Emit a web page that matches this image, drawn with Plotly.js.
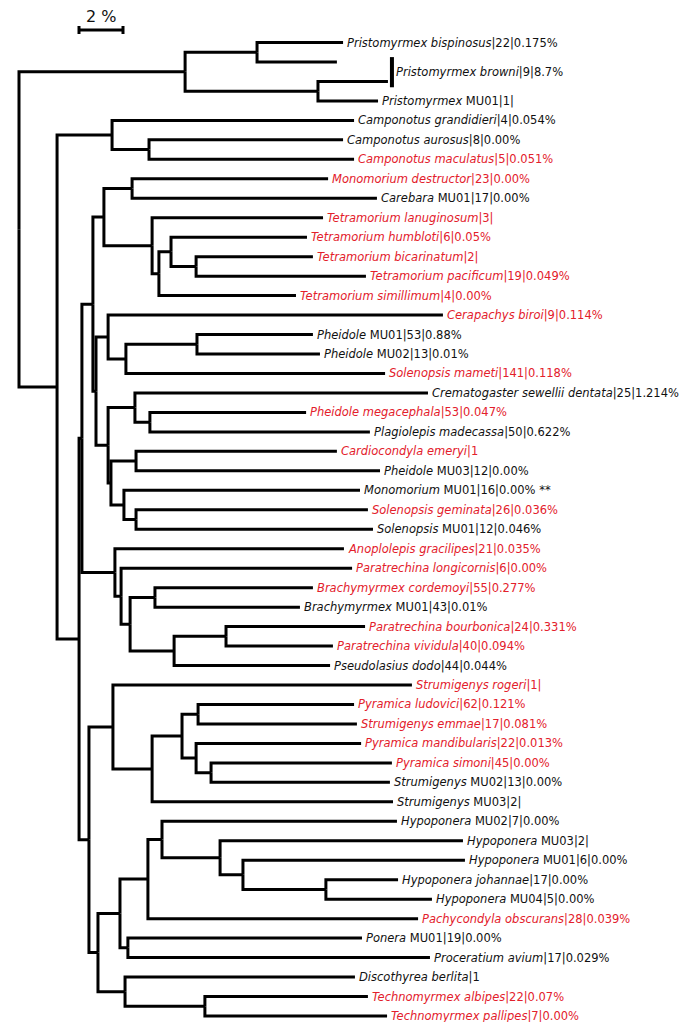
<!DOCTYPE html>
<html><head><meta charset="utf-8">
<script src="https://cdn.plot.ly/plotly-3.0.1.min.js"></script>
<style>html,body{margin:0;padding:0;background:#fff}#chart{width:685px;height:1022px}</style>
</head><body><div id="chart"></div>
<script>
// ---- Tree data (depths in % divergence from root) ----
const nodeIds = ['root','prist','p1','p2','A','camp','camp2','B','C','E','Q','monoCare','R','S','T','bicPac',
  'F','G','H','phMU','I','crem','megPlag','J','cardPh','K','sol','M','N','O','brachy','Pn','bourbViv',
  'D','U','V','W','ludEmm','X','simMU02','Y','Z','AA','BB','CC','DD','EE','ponProc','FF','GG'];
const nodeParents = [null,'root','prist','prist','root','A','camp','A','B','C','E','Q','Q','R','S','T',
  'E','F','G','H','F','I','crem','I','J','J','K','C','M','N','O','O','Pn',
  'B','D','U','V','W','W','X','D','Y','Z','AA','BB','CC','DD','Z','Y','FF'];
const nodeDepths = [0,7.55,10.82,13.59,1.73,4.23,5.91,2.73,2.86,3.36,3.86,5.14,6.05,6.36,6.91,8.05,
  3.50,4.05,4.86,8.09,4.05,5.27,5.95,4.18,5.32,4.77,5.32,4.36,4.64,5.05,6.18,7.05,9.41,
  3.18,4.27,6.05,7.41,8.14,8.05,8.73,3.59,4.59,5.86,6.50,9.14,10.18,13.95,4.95,4.82,8.45];

const leafTaxa = ['Pristomyrmex bispinosus','','','Pristomyrmex','Camponotus grandidieri','Camponotus aurosus',
  'Camponotus maculatus','Monomorium destructor','Carebara','Tetramorium lanuginosum','Tetramorium humbloti',
  'Tetramorium bicarinatum','Tetramorium pacificum','Tetramorium simillimum','Cerapachys biroi','Pheidole',
  'Pheidole','Solenopsis mameti','Crematogaster sewellii dentata','Pheidole megacephala','Plagiolepis madecassa',
  'Cardiocondyla emeryi','Pheidole','Monomorium','Solenopsis geminata','Solenopsis','Anoplolepis gracilipes',
  'Paratrechina longicornis','Brachymyrmex cordemoyi','Brachymyrmex','Paratrechina bourbonica',
  'Paratrechina vividula','Pseudolasius dodo','Strumigenys rogeri','Pyramica ludovici','Strumigenys emmae',
  'Pyramica mandibularis','Pyramica simoni','Strumigenys','Strumigenys','Hypoponera','Hypoponera','Hypoponera',
  'Hypoponera johannae','Hypoponera','Pachycondyla obscurans','Ponera','Proceratium avium','Discothyrea berlita',
  'Technomyrmex albipes','Technomyrmex pallipes'];
const leafInfo = ['|22|0.175%','','',' MU01|1|','|4|0.054%','|8|0.00%','|5|0.051%','|23|0.00%',' MU01|17|0.00%',
  '|3|','|6|0.05%','|2|','|19|0.049%','|4|0.00%','|9|0.114%',' MU01|53|0.88%',' MU02|13|0.01%','|141|0.118%',
  '|25|1.214%','|53|0.047%','|50|0.622%','|1',' MU03|12|0.00%',' MU01|16|0.00% **','|26|0.036%',' MU01|12|0.046%',
  '|21|0.035%','|6|0.00%','|55|0.277%',' MU01|43|0.01%','|24|0.331%','|40|0.094%','|44|0.044%','|1|',
  '|62|0.121%','|17|0.081%','|22|0.013%','|45|0.00%',' MU02|13|0.00%',' MU03|2|',' MU02|7|0.00%',' MU03|2|',
  ' MU01|6|0.00%','|17|0.00%',' MU04|5|0.00%','|28|0.039%',' MU01|19|0.00%','|17|0.029%','|1','|22|0.07%','|7|0.00%'];
const leafParents = ['p1','p1','p2','p2','camp','camp2','camp2','monoCare','monoCare','R','T','bicPac','bicPac','S',
  'G','phMU','phMU','H','crem','megPlag','megPlag','cardPh','cardPh','K','sol','sol','M','N','brachy','brachy',
  'bourbViv','bourbViv','Pn','U','ludEmm','ludEmm','X','simMU02','simMU02','V','BB','CC','DD','EE','EE','AA',
  'ponProc','ponProc','FF','GG','GG'];
const leafDepths = [14.73,14.45,16.77,16.32,15.23,14.73,15.23,14.05,16.27,13.82,13.09,13.36,15.77,12.59,19.27,
  13.36,13.68,16.64,18.59,13.05,15.95,14.45,16.41,15.50,15.86,16.09,14.77,15.14,13.36,12.77,15.73,14.27,14.14,
  17.86,15.23,15.36,15.55,16.95,16.86,17.00,17.18,20.18,20.27,17.23,18.77,18.14,15.59,18.68,15.27,15.86,16.73];
const leafRed = [0,0,0,0,0,0,1,1,0,1,1,1,1,1,1,0,0,1,0,1,0,1,0,0,1,0,1,1,1,0,1,1,0,1,1,1,1,1,0,0,0,0,0,0,0,1,0,0,0,1,1];

const bracketLeaves = [1, 2];
const bracketTaxon = 'Pristomyrmex browni';
const bracketInfo = '|9|8.7%';
const scaleBarValue = 2;
const scaleBarLabel = '2 %';

// ---- Layout geometry ----
const W = 685, H = 1022;
const PX_PER_UNIT = 22, ROOT_PX = 19;
const ROW0_PX = 42.5, ROW_PX = 19.47;
const RED = '#e3202b';
const FONT = 'DejaVu Sans', FSIZE = 11.5;

// ---- Build tree ----
const nodeX = {}, nodeY = {}, kids = {};
nodeIds.forEach((id, i) => { nodeX[id] = nodeDepths[i]; kids[id] = []; });
nodeIds.forEach((id, i) => { if (nodeParents[i]) kids[nodeParents[i]].push({node: id}); });
leafParents.forEach((p, i) => kids[p].push({leaf: i}));
function yOf(c) { return c.node !== undefined ? calcY(c.node) : c.leaf; }
function calcY(id) {
  if (nodeY[id] !== undefined) return nodeY[id];
  const ys = kids[id].map(yOf);
  nodeY[id] = (Math.min(...ys) + Math.max(...ys)) / 2;
  return nodeY[id];
}
calcY('root');

const xs = [], ys = [];
nodeIds.forEach(id => {
  kids[id].forEach(c => {
    const cy = yOf(c);
    const cx = c.node !== undefined ? nodeX[c.node] : leafDepths[c.leaf];
    xs.push(nodeX[id], nodeX[id], cx, null);
    ys.push(nodeY[id], cy, cy, null);
  });
});

const annotations = [];
leafTaxa.forEach((t, i) => {
  if (!t) return;
  annotations.push({
    x: leafDepths[i], y: i, xref: 'x', yref: 'y', xanchor: 'left', yanchor: 'middle', xshift: 2,
    showarrow: false, text: '<i>' + t + '</i>' + leafInfo[i],
    font: {family: FONT, size: FSIZE, color: leafRed[i] ? RED : '#111'}
  });
});

const bTip = Math.max(...bracketLeaves.map(i => leafDepths[i])) + 4 / PX_PER_UNIT;
const bMid = (bracketLeaves[0] + bracketLeaves[bracketLeaves.length - 1]) / 2;
annotations.push({
  x: bTip, y: bMid, xref: 'x', yref: 'y', xanchor: 'left', yanchor: 'middle', xshift: 2,
  showarrow: false, text: '<i>' + bracketTaxon + '</i>' + bracketInfo,
  font: {family: FONT, size: FSIZE, color: '#111'}
});

// scale bar
const sbX0 = (79 - ROOT_PX) / PX_PER_UNIT;
const sbY = (30 - ROW0_PX) / ROW_PX;
const tickH = 4 / ROW_PX;
annotations.push({
  x: sbX0 + scaleBarValue / 2, y: (16 - ROW0_PX) / ROW_PX, xref: 'x', yref: 'y',
  showarrow: false, text: scaleBarLabel, font: {family: FONT, size: 16, color: '#111'}
});

const shapes = [
  {type: 'line', xref: 'x', yref: 'y', x0: sbX0, x1: sbX0 + scaleBarValue, y0: sbY, y1: sbY, line: {color: '#000', width: 3}},
  {type: 'line', xref: 'x', yref: 'y', x0: sbX0, x1: sbX0, y0: sbY - tickH, y1: sbY + tickH, line: {color: '#000', width: 3}},
  {type: 'line', xref: 'x', yref: 'y', x0: sbX0 + scaleBarValue, x1: sbX0 + scaleBarValue, y0: sbY - tickH, y1: sbY + tickH, line: {color: '#000', width: 3}},
  {type: 'line', xref: 'x', yref: 'y', x0: bTip, x1: bTip,
   y0: bracketLeaves[0] - 0.25, y1: bracketLeaves[bracketLeaves.length - 1] + 0.3, line: {color: '#000', width: 4}}
];

const trace = {x: xs, y: ys, mode: 'lines', type: 'scatter', hoverinfo: 'skip',
  line: {color: '#000', width: 3}, connectgaps: false};

const layout = {
  width: W, height: H, margin: {l: 0, r: 0, t: 0, b: 0},
  paper_bgcolor: '#fff', plot_bgcolor: '#fff', showlegend: false,
  xaxis: {range: [-ROOT_PX / PX_PER_UNIT, (W - ROOT_PX) / PX_PER_UNIT], visible: false, fixedrange: true},
  yaxis: {range: [(H - ROW0_PX) / ROW_PX, -ROW0_PX / ROW_PX], visible: false, fixedrange: true},
  annotations: annotations, shapes: shapes
};
Plotly.newPlot('chart', [trace], layout, {staticPlot: true, displayModeBar: false});
</script></body></html>
